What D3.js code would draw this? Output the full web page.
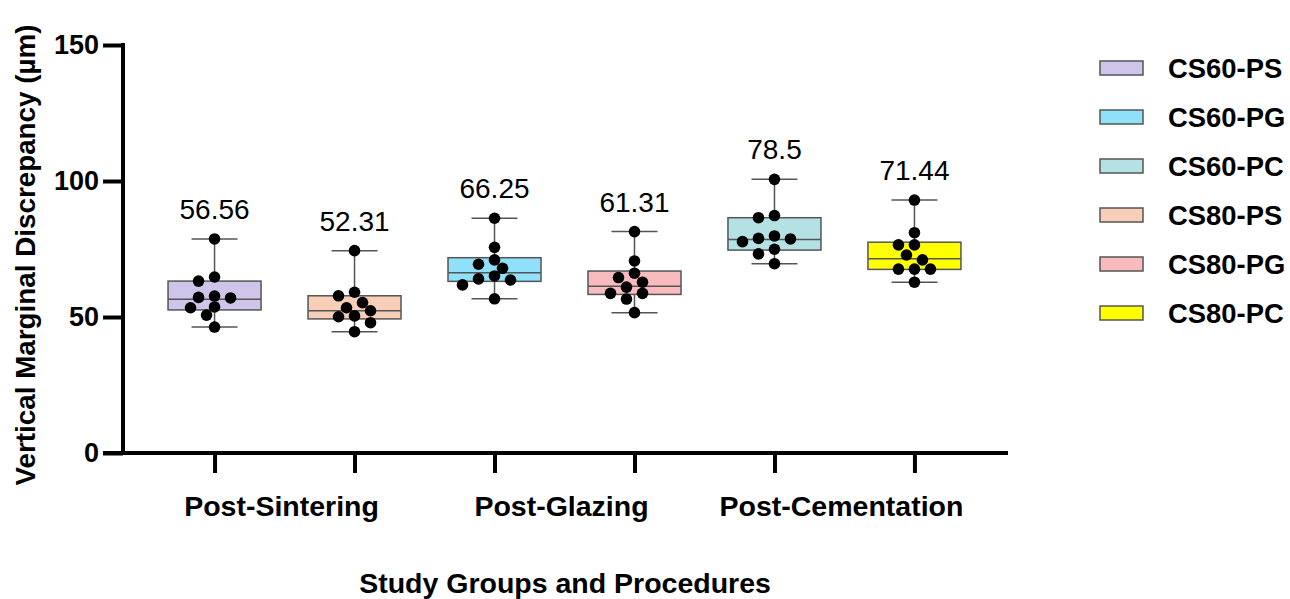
<!DOCTYPE html>
<html>
<head>
<meta charset="utf-8">
<script src="https://cdn.jsdelivr.net/npm/d3@7"></script>
<style>
  body { margin: 0; background: #fff; }
  text { font-family: "Liberation Sans", Arial, sans-serif; }
</style>
</head>
<body>
<script>
// groups in the order they sit on the x axis
var groups = ["CS60-PS", "CS80-PS", "CS60-PG", "CS80-PG", "CS60-PC", "CS80-PC"];
var legendOrder = ["CS60-PS", "CS60-PG", "CS60-PC", "CS80-PS", "CS80-PG", "CS80-PC"];
var stages = ["Post-Sintering", "Post-Glazing", "Post-Cementation"];
var yTicks = [0, 50, 100, 150];

// individual specimens (µm)
var cs60ps = [78.7, 64.7, 63.2, 57.7, 57.2, 57.0, 53.7, 53.4, 50.7, 46.3];
var cs80ps = [74.4, 59.1, 57.8, 55.3, 53.4, 52.3, 50.4, 50.1, 47.9, 44.6];
var cs60pg = [86.3, 75.6, 71.0, 69.4, 67.9, 65.1, 64.0, 63.6, 61.8, 56.7];
var cs80pg = [81.4, 70.6, 66.1, 64.5, 62.8, 61.0, 58.7, 58.7, 56.6, 51.6];
var cs60pc = [100.6, 87.3, 86.5, 79.8, 78.9, 78.7, 77.7, 74.9, 73.2, 69.6];
var cs80pc = [93.0, 81.0, 76.5, 76.5, 72.8, 71.0, 67.6, 67.6, 67.6, 62.8];
var points = [cs60ps, cs80ps, cs60pg, cs80pg, cs60pc, cs80pc];

// box statistics
var q3 = [63.2, 57.8, 71.8, 66.9, 86.5, 77.5];
var medians = [56.56, 52.31, 66.25, 61.31, 78.5, 71.44];
var q1 = [52.6, 49.3, 63.1, 58.3, 74.6, 67.5];

var colors = {
  "CS60-PS": "#cfc4e9",
  "CS60-PG": "#8fe1f9",
  "CS60-PC": "#b4e2e4",
  "CS80-PS": "#f9ceb8",
  "CS80-PG": "#f8bbbe",
  "CS80-PC": "#ffff00"
};

var width = 1290;
var height = 599;

var svg = d3.select("body").append("svg").attr("width", width).attr("height", height);

var x = d3.scalePoint().domain(groups).range([123, 1006]).padding(0.654);
var y = d3.scaleLinear().domain([0, 150]).range([453, 45]);

var boxW = 93;
var capW = 46;
var r = 5.8;
var lineCol = "#555";

// simple beeswarm: keep each dot as close to the centre as possible
function swarm(vals) {
  var placed = [];
  var sorted = vals.slice().sort(function(a, b) { return b - a; });
  sorted.forEach(function(v) {
    var py = y(v);
    var cands = [0, -8, 8, -16, 16, -24, 24, -32, 32];
    for (var k = 0; k < cands.length; k++) {
      var ok = placed.every(function(p) {
        var dx = p.dx - cands[k], dy = p.py - py;
        return Math.sqrt(dx * dx + dy * dy) >= 2 * r - 1;
      });
      if (ok) { placed.push({dx: cands[k], py: py}); break; }
    }
  });
  return placed;
}

groups.forEach(function(g, i) {
  var cx = x(g);
  var ext = d3.extent(points[i]);
  var grp = svg.append("g").attr("class", "box");

  // whiskers
  grp.append("line").attr("x1", cx).attr("x2", cx).attr("y1", y(ext[1])).attr("y2", y(q3[i]))
    .attr("stroke", lineCol).attr("stroke-width", 1.5);
  grp.append("line").attr("x1", cx).attr("x2", cx).attr("y1", y(q1[i])).attr("y2", y(ext[0]))
    .attr("stroke", lineCol).attr("stroke-width", 1.5);
  grp.append("line").attr("x1", cx - capW / 2).attr("x2", cx + capW / 2).attr("y1", y(ext[1])).attr("y2", y(ext[1]))
    .attr("stroke", lineCol).attr("stroke-width", 1.5);
  grp.append("line").attr("x1", cx - capW / 2).attr("x2", cx + capW / 2).attr("y1", y(ext[0])).attr("y2", y(ext[0]))
    .attr("stroke", lineCol).attr("stroke-width", 1.5);

  grp.append("rect")
    .attr("x", cx - boxW / 2).attr("y", y(q3[i]))
    .attr("width", boxW).attr("height", y(q1[i]) - y(q3[i]))
    .attr("fill", colors[g]).attr("stroke", lineCol).attr("stroke-width", 1.5);
  grp.append("line").attr("x1", cx - boxW / 2).attr("x2", cx + boxW / 2).attr("y1", y(medians[i])).attr("y2", y(medians[i]))
    .attr("stroke", lineCol).attr("stroke-width", 1.5);

  grp.selectAll("circle").data(swarm(points[i])).enter().append("circle")
    .attr("cx", function(d) { return cx + d.dx; })
    .attr("cy", function(d) { return d.py; })
    .attr("r", r)
    .attr("fill", "black");

  grp.append("text")
    .attr("x", cx).attr("y", y(ext[1]) - 20)
    .attr("text-anchor", "middle")
    .attr("font-size", 28)
    .text(medians[i]);
});

// axes
var yAxis = d3.axisLeft(y).tickValues(yTicks).tickSize(20).tickPadding(4);
var yg = svg.append("g").attr("transform", "translate(123,0)").call(yAxis);
yg.select(".domain").attr("d", "M0,43V455").attr("stroke-width", 4);
yg.selectAll(".tick line").attr("stroke-width", 4);
yg.selectAll(".tick text").attr("font-size", 27).attr("font-weight", "bold").attr("font-family", "Liberation Sans, Arial");

var xAxis = d3.axisBottom(x).tickSize(20).tickFormat("");
var xg = svg.append("g").attr("transform", "translate(0,453)").call(xAxis);
xg.select(".domain").attr("d", "M103,0H1008").attr("stroke-width", 4);
xg.selectAll(".tick line").attr("stroke-width", 4);

stages.forEach(function(s, j) {
  var mid = (x(groups[2 * j]) + x(groups[2 * j + 1])) / 2;
  svg.append("text").attr("x", mid - 3).attr("y", 516)
    .attr("text-anchor", "middle").attr("font-size", 28.5).attr("font-weight", "bold")
    .text(s);
});

svg.append("text").attr("x", 565).attr("y", 593)
  .attr("text-anchor", "middle").attr("font-size", 28.5).attr("font-weight", "bold")
  .text("Study Groups and Procedures");

svg.append("text")
  .attr("transform", "translate(35,255) rotate(-90)")
  .attr("text-anchor", "middle").attr("font-size", 27.8).attr("font-weight", "bold")
  .text("Vertical Marginal Discrepancy (µm)");

// legend
var leg = svg.selectAll("g.legend").data(legendOrder).enter().append("g")
  .attr("class", "legend")
  .attr("transform", function(d, i) { return "translate(1100," + (68 + i * 49) + ")"; });
leg.append("rect").attr("x", 0).attr("y", -7).attr("width", 43).attr("height", 14)
  .attr("fill", function(d) { return colors[d]; }).attr("stroke", lineCol).attr("stroke-width", 1.5);
leg.append("text").attr("x", 68).attr("y", 10)
  .attr("font-size", 27.4).attr("font-weight", "bold")
  .text(function(d) { return d; });
</script>
</body>
</html>
